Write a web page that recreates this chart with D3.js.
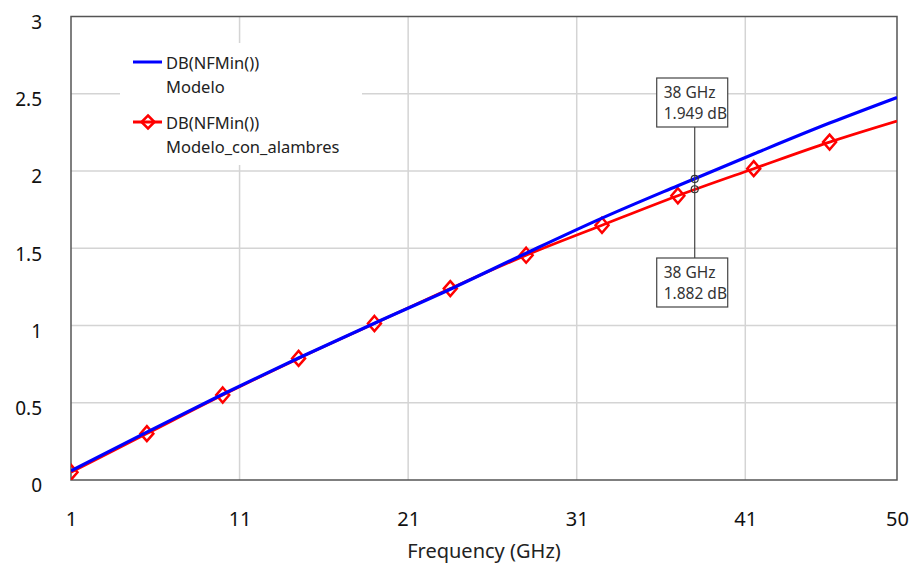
<!DOCTYPE html>
<html>
<head>
<meta charset="utf-8">
<script src="https://cdn.jsdelivr.net/npm/d3@7"></script>
<style>
  body { margin: 0; background: #fff; }
  text { font-family: "Noto Sans", sans-serif; }
</style>
</head>
<body>
<div id="chart"></div>
<script>
// Data (GHz, dB)
var freqs = [1, 5.5, 10, 14.5, 19, 23.5, 28, 32.5, 37, 41.5, 46, 50];
var modelo = [0.06, 0.31, 0.555, 0.79, 1.015, 1.235, 1.468, 1.695, 1.905, 2.11, 2.31, 2.476];
var conAlambres = [0.05, 0.30, 0.55, 0.787, 1.013, 1.239, 1.455, 1.649, 1.84, 2.015, 2.187, 2.323];
var markerFreqs = [1, 5.5, 10, 14.5, 19, 23.5, 28, 32.5, 37, 41.5, 46];
var xTicks = [1, 11, 21, 31, 41, 50];
var yTicks = [0, 0.5, 1, 1.5, 2, 2.5, 3];
var readoutFreq = 38;
var readoutValues = [1.949, 1.882];

var margin = {top: 16.5, right: 14, bottom: 84, left: 71},
    W = 911, H = 564,
    width = W - margin.left - margin.right,
    height = H - margin.top - margin.bottom;

var x = d3.scaleLinear().domain([1, 50]).range([0, width]);
var y = d3.scaleLinear().domain([0, 3]).range([height, 0]);

var svg = d3.select("#chart").append("svg")
    .attr("width", W).attr("height", H);
var g = svg.append("g")
    .attr("transform", "translate(" + margin.left + "," + margin.top + ")");

// grid
g.selectAll(".gx").data(xTicks.slice(1, -1)).enter().append("line")
    .attr("x1", d => x(d)).attr("x2", d => x(d))
    .attr("y1", 0).attr("y2", height)
    .attr("stroke", "#d4d4d4").attr("stroke-width", 1.5);
g.selectAll(".gy").data(yTicks.slice(1, -1)).enter().append("line")
    .attr("x1", 0).attr("x2", width)
    .attr("y1", d => y(d)).attr("y2", d => y(d))
    .attr("stroke", "#d4d4d4").attr("stroke-width", 1.5);

// legend background hides grid
g.append("rect")
    .attr("x", 120 - margin.left).attr("y", 43 - margin.top)
    .attr("width", 242).attr("height", 122)
    .attr("fill", "#fff");

// frame
g.append("rect")
    .attr("width", width).attr("height", height)
    .attr("fill", "none").attr("stroke", "#555").attr("stroke-width", 1.5);

// tick labels
g.append("g").attr("transform", "translate(0," + height + ")")
    .call(d3.axisBottom(x).tickValues(xTicks).tickSize(0).tickPadding(0).tickFormat(d3.format("d")))
    .call(a => a.select(".domain").remove())
    .selectAll("text")
    .attr("y", 46).attr("dy", null)
    .style("font-size", "20px").attr("fill", "#111")
    .style("font-family", "'Noto Sans', sans-serif");

g.append("g")
    .call(d3.axisLeft(y).tickValues(yTicks).tickSize(0).tickPadding(0).tickFormat(d => d))
    .call(a => a.select(".domain").remove())
    .selectAll("text")
    .attr("x", -29).attr("dy", "0.62em")
    .style("font-size", "19px").attr("fill", "#111")
    .style("font-family", "'Noto Sans', sans-serif");

g.append("text")
    .attr("x", width / 2).attr("y", height + 77.5)
    .attr("text-anchor", "middle")
    .style("font-size", "20px").attr("fill", "#222")
    .text("Frequency (GHz)");

// clip
svg.append("clipPath").attr("id", "clip")
  .append("rect").attr("width", width).attr("height", height);
var plot = g.append("g").attr("clip-path", "url(#clip)");

var line = d3.line().x(d => x(d[0])).y(d => y(d[1])).curve(d3.curveMonotoneX);

plot.append("path")
    .datum(d3.zip(freqs, conAlambres))
    .attr("d", line)
    .attr("fill", "none").attr("stroke", "#ff0000").attr("stroke-width", 2.7);

var diamond = function(cx, cy, w, h) {
  return "M" + cx + "," + (cy - h) + "L" + (cx + w) + "," + cy +
         "L" + cx + "," + (cy + h) + "L" + (cx - w) + "," + cy + "Z";
};
var redAt = d3.scaleLinear().domain(freqs).range(conAlambres);
plot.selectAll(".mk").data(markerFreqs).enter().append("path")
    .attr("d", d => diamond(x(d), y(redAt(d)), 6.5, 7.5))
    .attr("fill", "none").attr("stroke", "#ff0000").attr("stroke-width", 2.5);

plot.append("path")
    .datum(d3.zip(freqs, modelo))
    .attr("d", line)
    .attr("fill", "none").attr("stroke", "#0000ff").attr("stroke-width", 3.2);

// readout markers
var rx = x(readoutFreq);
var boxTop = [78 - margin.top, 258 - margin.top];
g.append("line")
    .attr("x1", rx).attr("x2", rx)
    .attr("y1", boxTop[0] + 49).attr("y2", boxTop[1])
    .attr("stroke", "#444").attr("stroke-width", 1.2);
g.selectAll(".rc").data(readoutValues).enter().append("circle")
    .attr("cx", rx).attr("cy", d => y(d)).attr("r", 3.5)
    .attr("fill", "none").attr("stroke", "#333").attr("stroke-width", 1.2);
readoutValues.forEach(function(v, i) {
  var bx = rx - 38, by = boxTop[i];
  g.append("rect")
      .attr("x", bx).attr("y", by).attr("width", 71).attr("height", 49)
      .attr("fill", "#fff").attr("stroke", "#444").attr("stroke-width", 1.2);
  g.append("text").attr("x", bx + 7).attr("y", by + 20)
      .style("font-size", "15.5px").attr("fill", "#333")
      .text(readoutFreq + " GHz");
  g.append("text").attr("x", bx + 7).attr("y", by + 41)
      .style("font-size", "15.5px").attr("fill", "#333")
      .text(v.toFixed(3) + " dB");
});

// legend
var legend = svg.append("g");
var items = [
  {color: "#0000ff", name: "Modelo", y: 62, mark: false},
  {color: "#ff0000", name: "Modelo_con_alambres", y: 122, mark: true}
];
items.forEach(function(it) {
  legend.append("line")
      .attr("x1", 133).attr("x2", 162).attr("y1", it.y).attr("y2", it.y)
      .attr("stroke", it.color).attr("stroke-width", 3);
  if (it.mark) {
    legend.append("path").attr("d", diamond(148, it.y, 6.5, 6.5))
        .attr("fill", "none").attr("stroke", it.color).attr("stroke-width", 2.5);
  }
  legend.append("text").attr("x", 166).attr("y", it.y + 6.5)
      .style("font-size", "16.5px").attr("fill", "#222").text("DB(NFMin())");
  legend.append("text").attr("x", 166).attr("y", it.y + 31)
      .style("font-size", "16.5px").attr("fill", "#222").text(it.name);
});
</script>
</body>
</html>
